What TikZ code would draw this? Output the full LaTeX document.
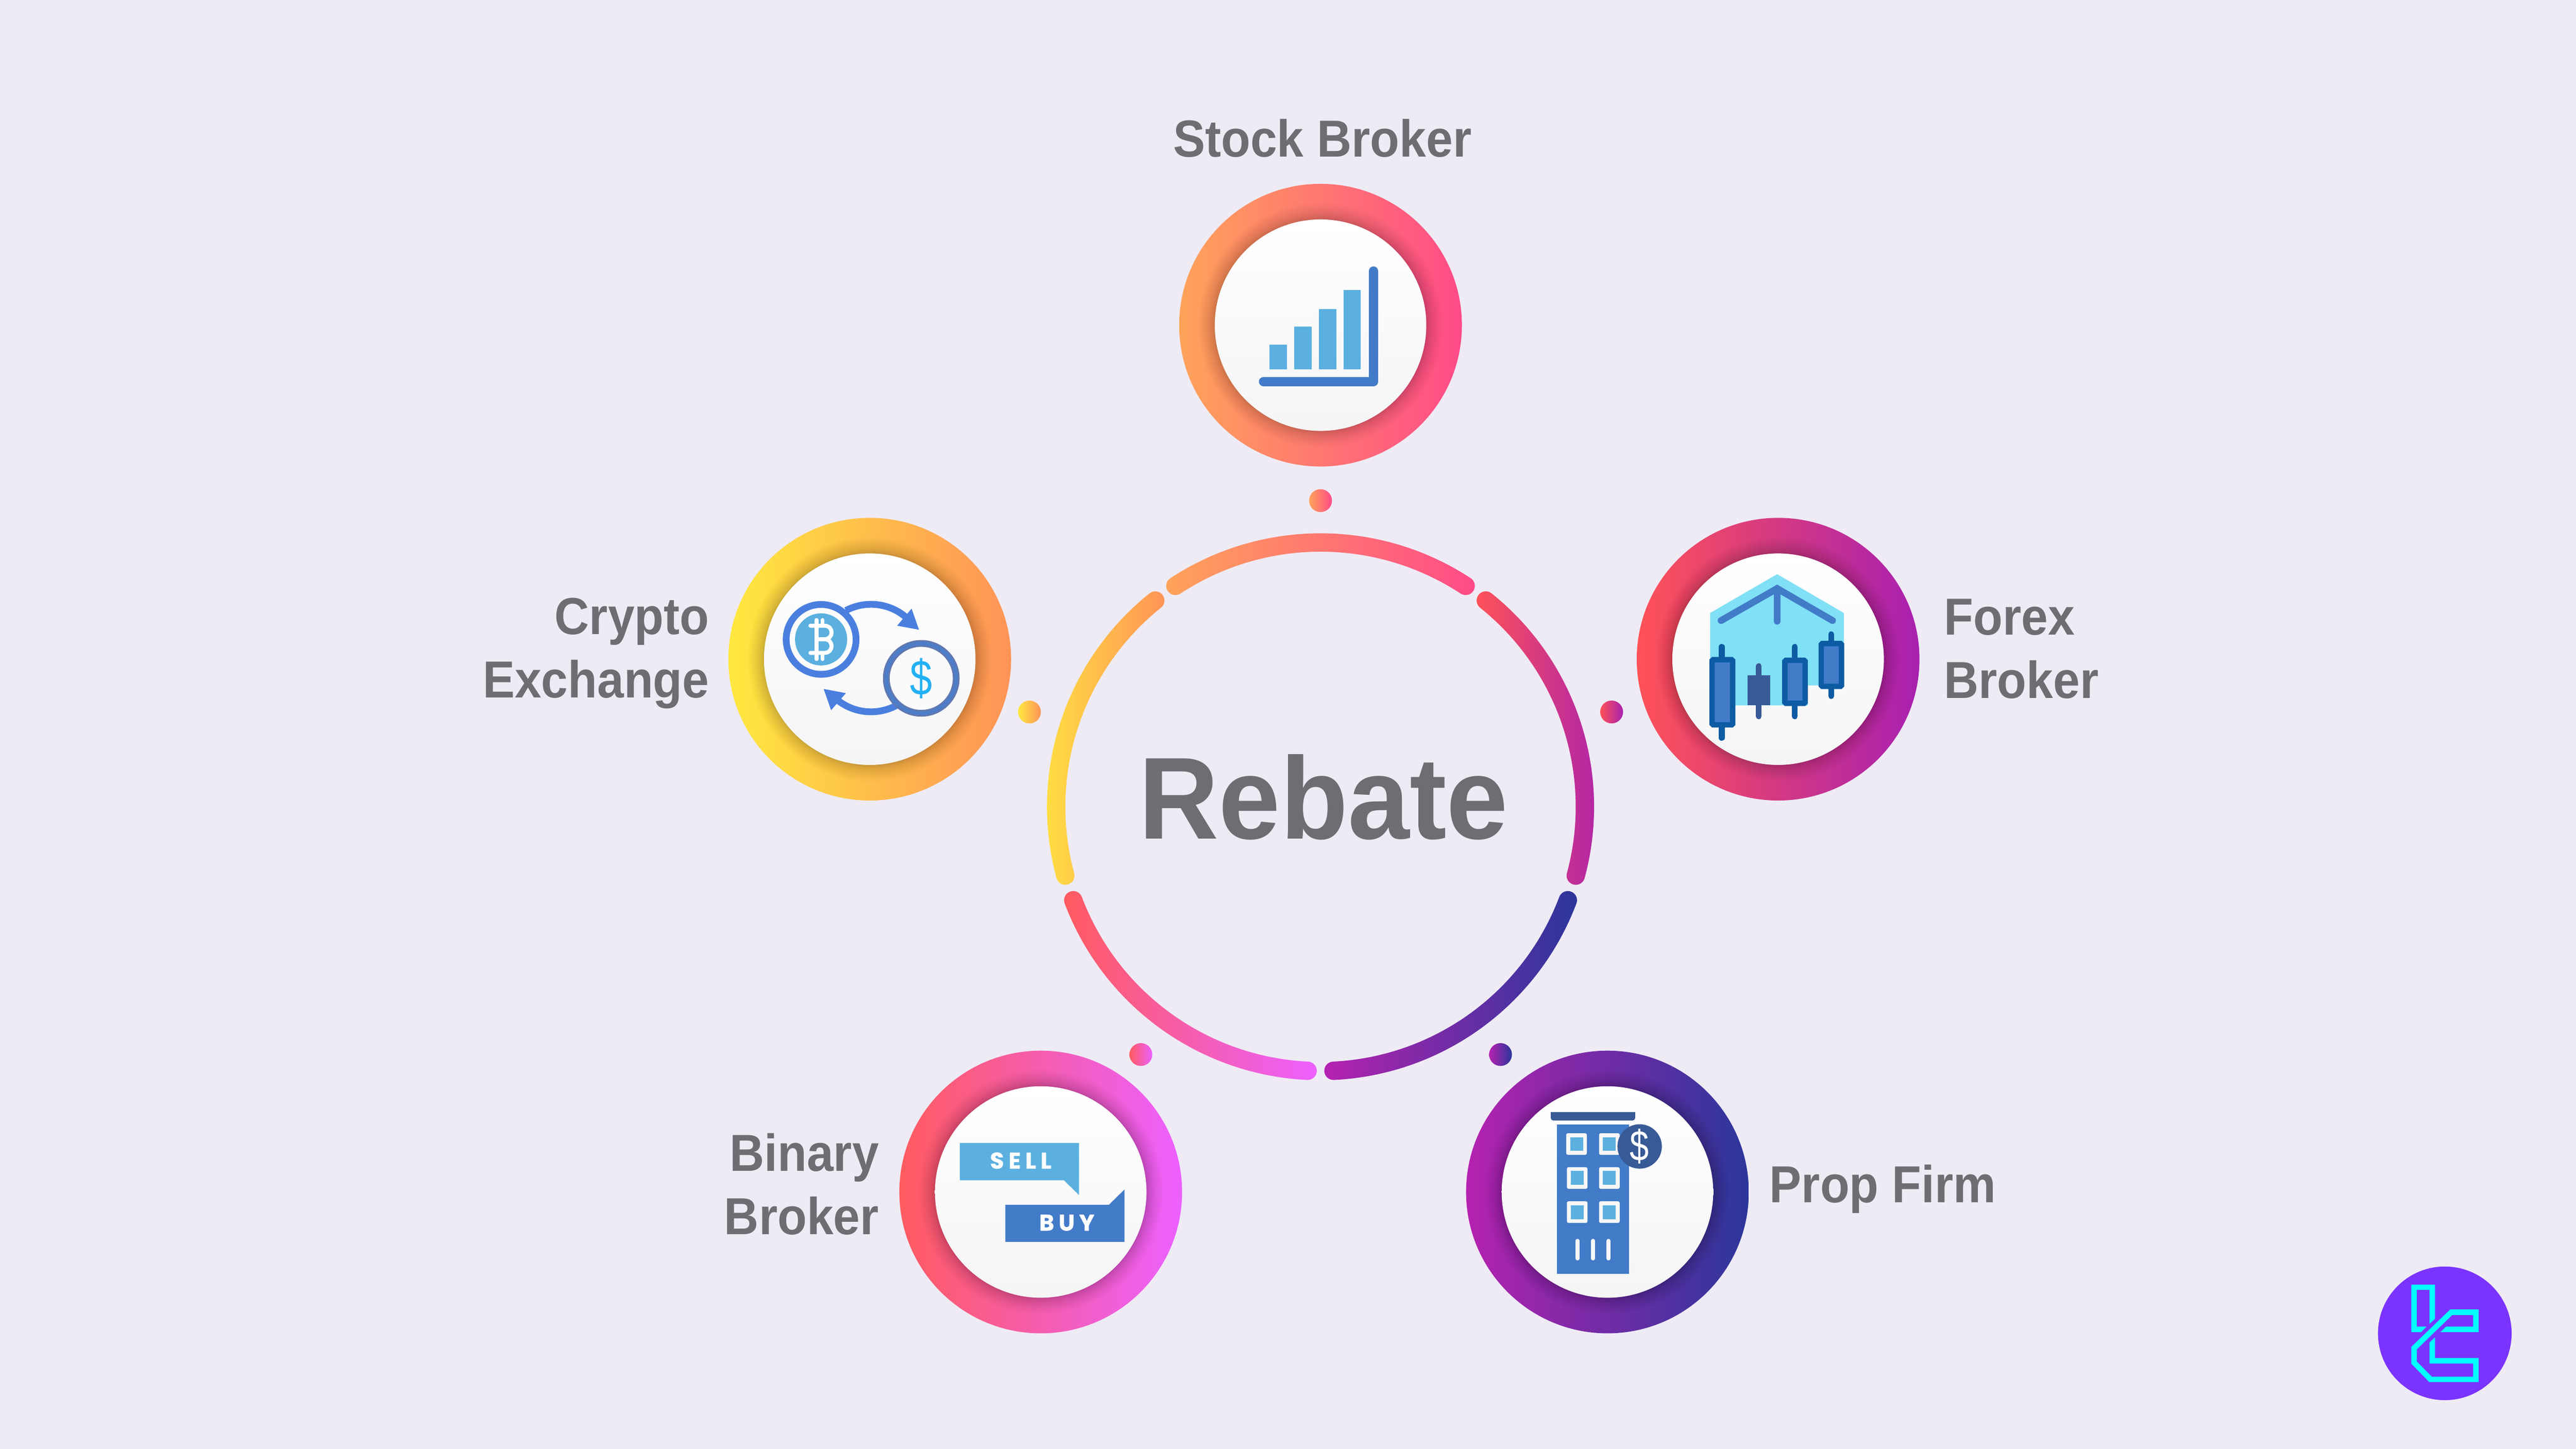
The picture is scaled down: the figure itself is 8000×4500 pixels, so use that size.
\documentclass[tikz,border=0pt]{standalone}
\usepackage{fontspec}
\setmainfont{Liberation Sans}
\newfontfamily\labelfont[FakeStretch=0.92]{Liberation Sans}
\newfontfamily\rebatefont[FakeStretch=0.95]{Liberation Sans}
\newfontfamily\usdfont[FakeStretch=0.8]{Liberation Sans}
\newfontfamily\tagfont[LetterSpace=20,FakeBold=1]{Poppins}

\definecolor{bgcol}{HTML}{EEEBF5}
\definecolor{textcol}{HTML}{6D6E71}
\definecolor{barblue}{HTML}{5BB0E0}
\definecolor{midblue}{HTML}{427BC8}
\definecolor{darkblue}{HTML}{0D5CA3}
\definecolor{slateblue}{HTML}{385A96}
\definecolor{roofcyan}{HTML}{80E0F5}
\definecolor{coinblue}{HTML}{4A7FE0}
\definecolor{logopurple}{HTML}{7B33FF}
\definecolor{logocyan}{HTML}{00FFFF}

\newcommand{\px}{0.28453pt}

\tikzset{
  stockshade/.style={left color={rgb,255:red,255;green,163;blue,90},middle color={rgb,255:red,255;green,122;blue,108},right color={rgb,255:red,255;green,75;blue,136}},
  cryptoshade/.style={left color={rgb,255:red,255;green,233;blue,63},middle color={rgb,255:red,255;green,176;blue,82},right color={rgb,255:red,255;green,147;blue,87}},
  forexshade/.style={left color={rgb,255:red,255;green,82;blue,87},middle color={rgb,255:red,216;green,58;blue,135},right color={rgb,255:red,168;green,32;blue,176}},
  binaryshade/.style={left color={rgb,255:red,255;green,91;blue,95},middle color={rgb,255:red,247;green,98;blue,192},right color={rgb,255:red,236;green,96;blue,255}},
  propshade/.style={left color={rgb,255:red,181;green,34;blue,176},middle color={rgb,255:red,111;green,48;blue,163},right color={rgb,255:red,43;green,54;blue,155}},
  sidelabel/.style={inner sep=0pt,text=textcol,font=\labelfont\bfseries\fontsize{46}{56}\selectfont},
  wick/.style={line width=18*\px,line cap=round},
  candle/.style={draw=darkblue,fill=midblue,line width=16.6*\px,rounded corners=3*\px},
  coinline/.style={line width=21*\px,coinblue},
  btcline/.style={line width=12.5*\px,white,line cap=round},
  winframe/.style={fill=white!97!black,rounded corners=5*\px},
}

% outer ring, soft shadow and white disc
\newcommand{\ringbadge}[3]{
  \shade[#3] (#1,#2) circle (439);
  \foreach \i in {1,...,14}
    \fill[black,opacity=0.016] (#1,#2) circle ({328+50*(\i/14)^1.6});
  \shade[top color=white,bottom color=white!96!black] (#1,#2) circle (328.5);
}
% one piece of the big ring, with round ends
\newcommand{\ringarc}[3]{
  \shade[#3] (#1:849.5) arc[start angle=#1,end angle=#2,radius=849.5]
    arc[start angle=#2,end angle=#2-180,radius=28.5]
    arc[start angle=#2,end angle=#1,radius=792.5]
    arc[start angle=#1+180,end angle=#1,radius=28.5] -- cycle;
}

\begin{document}
\begin{tikzpicture}[x=0.01cm,y=-0.01cm]

\fill[bgcol] (0,0) rectangle (8000,4500);

% big ring
\begin{scope}[shift={(4101,2506)},y=0.01cm]
\ringarc{123.3}{56.7}{stockshade}
\ringarc{51.3}{-15.1}{forexshade}
\ringarc{-20.7}{-87.2}{propshade}
\ringarc{-92.8}{-159.3}{binaryshade}
\ringarc{195.1}{128.7}{cryptoshade}
\end{scope}

\node[inner sep=0pt,text=textcol,anchor=base,font=\rebatefont\bfseries\fontsize{103}{110}\selectfont] (rebate) at (4110,2605) {Rebate};

% dots
\shade[stockshade] (4101,1555) circle (35.5);
\shade[cryptoshade] (3197,2211.5) circle (35.5);
\shade[forexshade] (5005,2211.5) circle (35.5);
\shade[binaryshade] (3543,3275.5) circle (35.5);
\shade[propshade] (4660,3275.5) circle (35.5);

% badges
\ringbadge{4101}{1010}{stockshade}
\ringbadge{2701}{2047.5}{cryptoshade}
\ringbadge{5522}{2047.5}{forexshade}
\ringbadge{3232}{3702.5}{binaryshade}
\ringbadge{4992}{3702.5}{propshade}

% labels
\node[sidelabel,anchor=base] (stocklabel) at (4107,488) {Stock Broker};
\node[sidelabel,anchor=east,align=right] (cryptolabel) at (2203,2030) {Crypto\\Exchange};
\node[sidelabel,anchor=west,align=left] (forexlabel) at (6037,2015) {Forex\\Broker};
\node[sidelabel,anchor=east,align=right] (binarylabel) at (2730,3678) {Binary\\Broker};
\node[sidelabel,anchor=base west] (proplabel) at (5495,3735) {Prop Firm};

% stock icon
\fill[barblue] (3942.5,1071) rectangle (3996,1147.5);
\fill[barblue] (4019.5,1014) rectangle (4073,1147.5);
\fill[barblue] (4096,960) rectangle (4150,1147.5);
\fill[barblue] (4172.5,901) rectangle (4226,1147.5);
\draw[midblue,line width=29*\px,line cap=round,line join=round] (3924,1185) -- (4265.5,1185) -- (4265.5,842);

% crypto icon
\begin{scope}[shift={(2705,2044)},y=0.01cm]
\draw[coinline] (117.8:167) arc[start angle=117.8,end angle=50.7,radius=167];
\draw[coinline] (297.8:167) arc[start angle=297.8,end angle=230.7,radius=167];
\end{scope}
\fill[coinblue] (2831,1890.5) -- (2854,1956) -- (2786,1943.5) -- cycle;
\fill[coinblue] (2558,2140) -- (2627,2153) -- (2581,2206) -- cycle;
\draw[coinline,fill=white!99!black] (2550,1986) circle (108.5);
\fill[barblue] (2550,1986) circle (81);
\draw[btcline] (2517,1943.5) -- (2560,1943.5) .. controls (2590,1943.5) and (2590,1985.5) .. (2560,1985.5) -- (2535.5,1985.5);
\draw[btcline] (2560,1985.5) .. controls (2590,1985.5) and (2590,2028) .. (2560,2028) -- (2517,2028);
\draw[btcline] (2535.5,1943.5) -- (2535.5,2028);
\draw[btcline] (2535.5,1926) -- (2535.5,1943.5) (2554.5,1926) -- (2554.5,1943.5);
\draw[btcline] (2535.5,2028) -- (2535.5,2047) (2554.5,2028) -- (2554.5,2047);
\draw[line width=21*\px,draw={rgb,255:red,96;green,120;blue,176},fill=white!98!black] (2861,2107) circle (108.5);
\draw[line width=10*\px,draw={rgb,255:red,76;green,125;blue,201}] (2861,2107) circle (108.5);
\node[inner sep=0pt,text={rgb,255:red,35;green,176;blue,245},font=\usdfont\fontsize{44}{50}\selectfont] (usdcoin) at (2861,2107) {\$};

% forex icon
\fill[roofcyan] (5311,1904) -- (5519,1783.5) -- (5726,1904) -- (5726,2129) -- (5614,2129) -- (5614,2191) -- (5389,2191) -- (5389,2100) -- (5311,2100) -- cycle;
\draw[midblue,line width=21*\px,line cap=round] (5345,1927.5) -- (5519,1828) -- (5691,1927.5);
\draw[midblue,line width=21*\px,line cap=round] (5519,1828) -- (5519,1929.5);
\draw[wick,darkblue] (5347,2009) -- (5347,2292);
\fill[slateblue] (5427,2097) rectangle (5497,2191);
\draw[wick,slateblue] (5462,2069) -- (5462,2225);
\draw[wick,darkblue] (5574,2009) -- (5574,2225);
\draw[wick,darkblue] (5687,1970) -- (5687,2162);
\draw[candle] (5317,2049) rectangle (5381,2251.5);
\draw[candle] (5543,2051) rectangle (5606,2184.5);
\draw[candle] (5656,1999) rectangle (5719,2132);

% binary icon
\fill[barblue] (2981,3550) -- (3351,3550) -- (3351,3712) -- (3304,3666) -- (2981,3666) -- cycle;
\fill[midblue] (3122,3742) -- (3444,3742) -- (3492,3695) -- (3492,3857.5) -- (3122,3857.5) -- cycle;
\node[inner sep=0pt,text=white,font=\tagfont\bfseries\fontsize{20}{22}\selectfont] (selltag) at (3170,3605) {SELL};
\node[inner sep=0pt,text=white,font=\tagfont\bfseries\fontsize{20}{22}\selectfont] (buytag) at (3313,3798) {BUY};

% prop firm icon
\fill[slateblue,rounded corners=8*\px] (4816,3454.5) rectangle (5078,3480.5);
\fill[slateblue] (4816,3454.5) rectangle (5078,3468);
\fill[midblue] (4835,3493) rectangle (5059,3957);
\foreach \wx/\wy in {4896/3553.5,4998/3553.5,4898/3659,4998/3659,4898/3765,4998/3765} {
  \fill[winframe] (\wx-32,\wy-33.5) rectangle (\wx+32,\wy+33.5);
  \fill[barblue] (\wx-20,\wy-21.5) rectangle (\wx+20,\wy+21.5);
}
\foreach \dx in {4899,4947,4995.5}
  \draw[white!97!black,line width=12*\px,line cap=round] (\dx,3854) -- (\dx,3909);
\fill[slateblue] (5092,3561) circle (69);
\node[inner sep=0pt,text=white,font=\usdfont\fontsize{38}{42}\selectfont] (usdbadge) at (5092,3561) {\$};

% logo
\fill[logopurple] (7592.5,4141.5) circle (207.5);
\begin{scope}[shift={(7300,3880)},scale=0.3333]
\fill[logocyan] (565,330) -- (786,330) -- (786,650) -- (735,696) -- (735,380) -- (616,380) -- (616,722) -- (708,722) -- (656,773) -- (565,773) -- cycle;
\fill[logocyan] (928,562) -- (1193,562) -- (1193,773) -- (837,773) -- (889,722) -- (1141,722) -- (1141,614) -- (947,614) -- (617,933) -- (617,1047) -- (756,1188) -- (1141,1188) -- (1141,1066) -- (735,1066) -- (735,870) -- (786,822) -- (786,1014) -- (1193,1014) -- (1193,1239) -- (733,1239) -- (565,1067) -- (565,911) -- cycle;
\end{scope}

\end{tikzpicture}
\end{document}
